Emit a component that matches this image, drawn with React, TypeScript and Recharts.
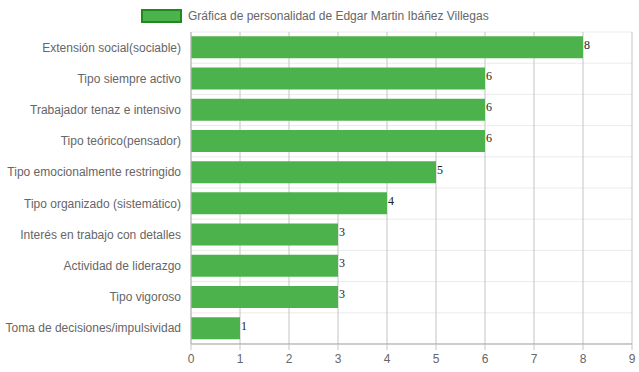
import React from "react";
import { BarChart, Bar, XAxis, YAxis, CartesianGrid, LabelList } from "recharts";

const seriesName = "Gráfica de personalidad de Edgar Martin Ibáñez Villegas";
const categories = [
  "Extensión social(sociable)",
  "Tipo siempre activo",
  "Trabajador tenaz e intensivo",
  "Tipo teórico(pensador)",
  "Tipo emocionalmente restringido",
  "Tipo organizado (sistemático)",
  "Interés en trabajo con detalles",
  "Actividad de liderazgo",
  "Tipo vigoroso",
  "Toma de decisiones/impulsividad",
];
const values = [8, 6, 6, 6, 5, 4, 3, 3, 3, 1];
const xTicks = [0, 1, 2, 3, 4, 5, 6, 7, 8, 9];

const data = categories.map((name, i) => ({ name, value: values[i] }));

const FONT = "'Liberation Sans', Arial, Helvetica, sans-serif";

const ValueLabel = (props: any) => {
  const { x, y, width, height, value } = props;
  return (
    <text
      x={x + width + 1}
      y={y + height / 2 + 1.5}
      fontFamily="'Liberation Serif', 'Times New Roman', serif"
      fontSize={12}
      fill="#222"
    >
      {value}
    </text>
  );
};

const YTick = (props: any) => {
  const { x, y, payload } = props;
  return (
    <text
      x={x - 8}
      y={y}
      dy={4}
      textAnchor="end"
      fontFamily={FONT}
      fontSize={12}
      fill="#666"
    >
      {payload.value}
    </text>
  );
};

export default function App() {
  return (
    <div style={{ position: "absolute", left: 0, top: 0, width: 639, height: 372, background: "#fff" }}>
      <div
        style={{
          position: "absolute",
          left: 141,
          top: 9,
          display: "flex",
          alignItems: "center",
          fontFamily: FONT,
          fontSize: 12,
          color: "#666",
          whiteSpace: "nowrap",
        }}
      >
        <div
          style={{
            width: 37,
            height: 10,
            background: "#4CB34C",
            border: "2px solid #1E8A1E",
            marginRight: 6,
          }}
        />
        <span>{seriesName}</span>
      </div>
      <BarChart
        width={639}
        height={372}
        data={data}
        layout="vertical"
        margin={{ top: 32, right: 7, bottom: 0, left: 0 }}
        barCategoryGap="14%"
      >
        <CartesianGrid
          vertical={false}
          stroke="#ebebeb"
          horizontalCoordinatesGenerator={({ offset }: any) =>
            categories.map((_, i) => offset.top + (i * offset.height) / categories.length)
          }
        />
        <CartesianGrid horizontal={false} stroke="#c4c4c4" />
        <XAxis
          type="number"
          domain={[0, 9]}
          ticks={xTicks}
          interval={0}
          height={28}
          axisLine={{ stroke: "#999" }}
          tickLine={{ stroke: "#c4c4c4" }}
          tickSize={6}
          tickMargin={4}
          tick={{ fill: "#666", fontSize: 12, fontFamily: FONT }}
        />
        <YAxis
          type="category"
          dataKey="name"
          width={191}
          interval={0}
          axisLine={{ stroke: "#bbb" }}
          tickLine={false}
          tickSize={0}
          tick={<YTick />}
        />
        <Bar dataKey="value" fill="#4CB34C" isAnimationActive={false}>
          <LabelList dataKey="value" content={ValueLabel} />
        </Bar>
      </BarChart>
    </div>
  );
}
